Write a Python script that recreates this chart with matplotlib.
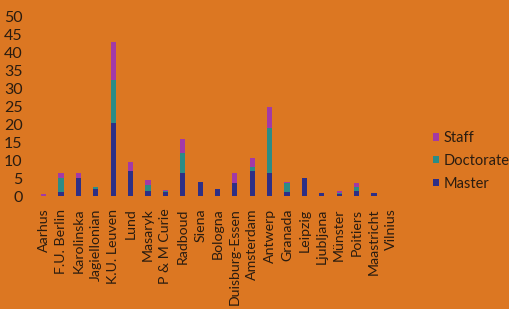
import matplotlib
matplotlib.use("Agg")
import matplotlib.pyplot as plt
import numpy as np

categories = ["Aarhus", "F.U. Berlin", "Karolinska", "Jagiellonian", "K.U. Leuven",
              "Lund", "Masaryk", "P & M Curie", "Radboud", "Siena", "Bologna",
              "Duisburg-Essen", "Amsterdam", "Antwerp", "Granada", "Leipzig",
              "Ljubljana", "Münster", "Poitiers", "Maastricht", "Vilnius"]
master    = [0.0, 1.0, 5.0, 2.0, 20.5, 7.0, 1.5, 1.0, 6.5, 4.0, 2.0,
             3.5, 7.0, 6.5, 1.0, 5.0, 0.7, 0.5, 1.5, 0.8, 0.0]
doctorate = [0.0, 4.0, 0.0, 0.5, 12.0, 0.0, 1.5, 0.5, 5.5, 0.0, 0.0,
             0.0, 1.0, 12.5, 2.5, 0.0, 0.0, 0.3, 1.0, 0.0, 0.0]
staff     = [0.5, 1.5, 1.5, 0.0, 10.5, 2.5, 1.5, 0.3, 4.0, 0.0, 0.0,
             3.0, 2.5, 6.0, 0.5, 0.0, 0.0, 0.5, 1.0, 0.0, 0.0]
yticks = [0, 5, 10, 15, 20, 25, 30, 35, 40, 45, 50]

plt.rcParams['font.family'] = ['Lato', 'DejaVu Sans']

bg = "#DC7722"
txt = "#2a1c10"
c_master = "#2E2F86"
c_doc = "#2C8C86"
c_staff = "#A23AA6"

fig = plt.figure(figsize=(5.09, 3.09), dpi=100, facecolor=bg)
ax = fig.add_axes([35/509, 1-196/309, 365/509, (196-17)/309])
ax.set_facecolor(bg)

x = np.arange(len(categories))
m = np.array(master); d = np.array(doctorate); s = np.array(staff)
w = 0.3
ax.bar(x, m, width=w, color=c_master, label="Master")
ax.bar(x, d, width=w, bottom=m, color=c_doc, label="Doctorate")
ax.bar(x, s, width=w, bottom=m + d, color=c_staff, label="Staff")

ax.set_xlim(-0.5, len(categories) - 0.5)
ax.set_ylim(0, 50)
ax.set_yticks(yticks)
ax.set_yticklabels([str(v) for v in yticks], fontsize=11.5, color=txt)
ax.set_xticks(x)
ax.set_xticklabels(categories, rotation=90, fontsize=10.2, color=txt, va="top", ha="center")
ax.tick_params(axis="both", length=0)
ax.tick_params(axis="y", pad=9)
ax.tick_params(axis="x", pad=9)
for sp in ax.spines.values():
    sp.set_visible(False)

h, l = ax.get_legend_handles_labels()
leg = fig.legend(h[::-1], l[::-1], loc="center left", bbox_to_anchor=(433/509, 1-161/309),
                 frameon=False, fontsize=10.5, handlelength=0.4, handleheight=0.4,
                 handletextpad=0.3, labelspacing=0.6, borderpad=0, borderaxespad=0)
for t in leg.get_texts():
    t.set_color(txt)

fig.savefig("out.png", dpi=100, facecolor=bg)
